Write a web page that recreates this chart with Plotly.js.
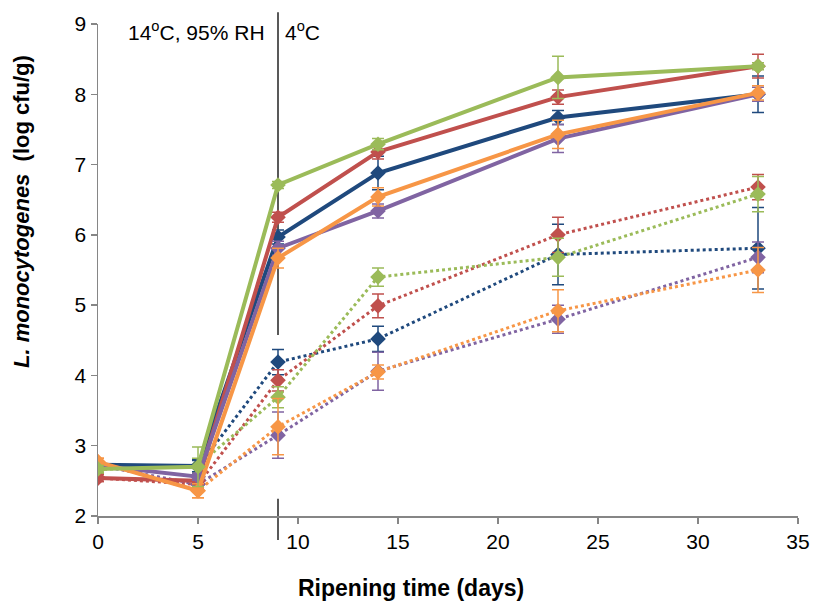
<!DOCTYPE html>
<html><head><meta charset="utf-8">
<script src="https://cdn.plot.ly/plotly-3.0.1.min.js"></script>
<style>body{margin:0;background:#fff}#chart{width:817px;height:604px}</style>
</head><body><div id="chart"></div>
<script>
const days = [0, 5, 9, 14, 23, 33];

// solid series
const solidBlue   = [2.73, 2.71, 5.97, 6.88, 7.67, 8.00];
const solidRed    = [2.54, 2.50, 6.25, 7.18, 7.96, 8.40];
const solidGreen  = [2.67, 2.70, 6.71, 7.29, 8.24, 8.40];
const solidPurple = [2.72, 2.56, 5.81, 6.34, 7.37, 8.00];
const solidOrange = [2.77, 2.36, 5.67, 6.54, 7.43, 8.02];
const errSolidBlue   = [0.05, 0.08, 0.10, 0.24, 0.10, 0.26];
const errSolidRed    = [0.05, 0.05, 0.07, 0.10, 0.10, 0.17];
const errSolidGreen  = [0.05, 0.28, 0.05, 0.08, 0.30, 0.05];
const errSolidPurple = [0.05, 0.05, 0.10, 0.10, 0.20, 0.10];
const errSolidOrange = [0.05, 0.10, 0.14, 0.13, 0.20, 0.10];

// dotted series
const dotBlue   = [2.72, 2.70, 4.19, 4.52, 5.72, 5.81];
const dotRed    = [2.54, 2.45, 3.93, 4.99, 6.00, 6.68];
const dotGreen  = [2.66, 2.72, 3.69, 5.40, 5.68, 6.58];
const dotPurple = [2.72, 2.45, 3.15, 4.06, 4.80, 5.68];
const dotOrange = [2.77, 2.36, 3.27, 4.05, 4.92, 5.50];
const errDotBlue   = [0.05, 0.10, 0.18, 0.18, 0.43, 0.58];
const errDotRed    = [0.05, 0.05, 0.15, 0.17, 0.25, 0.18];
const errDotGreen  = [0.05, 0.10, 0.15, 0.13, 0.27, 0.25];
const errDotPurple = [0.05, 0.05, 0.33, 0.27, 0.20, 0.22];
const errDotOrange = [0.05, 0.10, 0.40, 0.10, 0.30, 0.32];

const C = {blue:'#1F497D', red:'#C0504D', green:'#9BBB59', purple:'#8064A2', orange:'#F79646'};

function tr(y, err, color, dotted){
  return {
    x: days, y: y, type:'scatter', mode:'lines+markers', showlegend:false,
    line:{color:color, width: dotted ? 3 : 4, dash: dotted ? 'dot' : 'solid'},
    marker:{symbol:'diamond', size: 12, color: color},
    error_y:{type:'data', array: err, visible:true, color: color, thickness:1.5, width:6}
  };
}

const data = [
  tr(dotBlue, errDotBlue, C.blue, true),
  tr(dotRed, errDotRed, C.red, true),
  tr(dotGreen, errDotGreen, C.green, true),
  tr(dotPurple, errDotPurple, C.purple, true),
  tr(dotOrange, errDotOrange, C.orange, true),
  tr(solidBlue, errSolidBlue, C.blue, false),
  tr(solidRed, errSolidRed, C.red, false),
  tr(solidPurple, errSolidPurple, C.purple, false),
  tr(solidOrange, errSolidOrange, C.orange, false),
  tr(solidGreen, errSolidGreen, C.green, false)
];

const F = 'Liberation Sans, Arial, sans-serif';
const layout = {
  width: 817, height: 604,
  margin: {l: 98, r: 19, t: 24, b: 88},
  paper_bgcolor: '#fff', plot_bgcolor: '#fff',
  font: {family: F, size: 21, color: '#000'},
  xaxis: {range: [0, 35], dtick: 5, tick0: 0, showgrid: false, zeroline: false,
    showline: true, linecolor: '#868686', linewidth: 1.5,
    ticks: 'outside', ticklen: 6, tickcolor: '#868686', tickwidth: 1.5,
    tickfont: {family: F, size: 21}},
  yaxis: {range: [2, 9], dtick: 1, tick0: 2, showgrid: false, zeroline: false,
    showline: true, linecolor: '#868686', linewidth: 1.5,
    ticks: 'outside', ticklen: 6, tickcolor: '#868686', tickwidth: 1.5,
    tickfont: {family: F, size: 21}},
  shapes: [
    {type: 'line', xref: 'x', yref: 'paper', x0: 9, x1: 9, y0: 0.368, y1: 1.024,
     line: {color: '#595959', width: 2}, layer: 'below'},
    {type: 'line', xref: 'x', yref: 'paper', x0: 9, x1: 9, y0: -0.049, y1: 0.035,
     line: {color: '#595959', width: 2}, layer: 'below'}
  ],
  annotations: [
    {text: '14<sup>o</sup>C, 95% RH', xref: 'paper', yref: 'paper', x: (196 - 98) / 700, y: (516 - 31) / 492,
     showarrow: false, xanchor: 'center', yanchor: 'middle', font: {family: F, size: 21}},
    {text: '4<sup>o</sup>C', xref: 'paper', yref: 'paper', x: (302 - 98) / 700, y: (516 - 31) / 492,
     showarrow: false, xanchor: 'center', yanchor: 'middle', font: {family: F, size: 21}},
    {text: '<b><i>L. monocytogenes</i>  (log cfu/g)</b>', xref: 'paper', yref: 'paper',
     x: (22 - 98) / 700, y: (516 - 212) / 492, textangle: -90, showarrow: false,
     xanchor: 'center', yanchor: 'middle', font: {family: F, size: 22}},
    {text: '<b>Ripening time (days)</b>', xref: 'paper', yref: 'paper',
     x: (411 - 98) / 700, y: (516 - 588) / 492, showarrow: false,
     xanchor: 'center', yanchor: 'middle', font: {family: F, size: 23}}
  ]
};
Plotly.newPlot('chart', data, layout, {staticPlot: true, displayModeBar: false});
</script></body></html>
